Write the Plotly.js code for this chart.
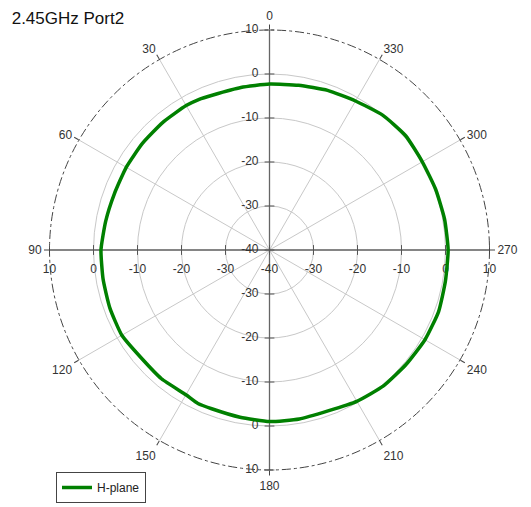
<!DOCTYPE html>
<html>
<head>
<meta charset="utf-8">
<script src="https://cdn.plot.ly/plotly-3.0.1.min.js"></script>
<style>html,body{margin:0;padding:0;background:#fff;}#chart{width:531px;height:507px;}</style>
</head>
<body>
<div id="chart"></div>
<script>
// Measured H-plane pattern (dB) vs angle (deg)
const angles = [0,10,20,25,30,40,50,60,70,80,90,100,110,120,130,140,150,155,160,170,180,190,200,210,220,230,240,250,260,270,280,290,300,310,320,330,340,350,360];
const hplane = [-2.3,-2.5,-2.5,-2.2,-2.1,-2.2,-2.3,-2.4,-2.5,-2.2,-1.7,-1.6,-1.4,-1.25,-1.9,-1.8,-2.0,-1.5,-1.6,-1.4,-1.0,-1.0,-1.1,-0.3,0.3,0.5,0.8,0.9,0.6,0.6,0.4,0.2,0.1,0.4,0.0,-0.9,-1.4,-2.0,-2.3];
const seriesName = 'H-plane';
const titleText = '2.45GHz Port2';
const radialRange = [-40, 10];
const radialTicks = [-40, -30, -20, -10, 0, 10];
const radialTickLabels = ['-40', '-30', '-20', '-10', '0', '10'];
const angularTicks = [0, 30, 60, 90, 120, 150, 180, 210, 240, 270, 300, 330];
const axisArms = [0, 180, 90, 270];

const font = '"Liberation Sans", Arial, sans-serif';
const traces = [];

// axis lines through the centre
traces.push({
  type: 'scatterpolar', mode: 'lines',
  r: [radialRange[1], radialRange[1], null, radialRange[1], radialRange[1]],
  theta: [axisArms[0], axisArms[1], null, axisArms[2], axisArms[3]],
  line: {color: '#666', width: 1.3}, hoverinfo: 'skip', showlegend: false
});

// tick marks + labels on the four arms
function arm(theta, vertical, withCenter) {
  const rs = [], tx = [];
  radialTicks.forEach((v, i) => {
    if (v === radialRange[0] && !withCenter) return;
    rs.push(v); tx.push(radialTickLabels[i]);
  });
  traces.push({
    type: 'scatterpolar', mode: 'markers',
    r: rs, theta: rs.map(() => theta),
    marker: {symbol: vertical ? 'line-ew' : 'line-ns', size: 7, color: '#555', line: {color: '#555', width: 1}},
    hoverinfo: 'skip', showlegend: false, cliponaxis: false
  });
  traces.push({
    type: 'scatterpolar', mode: 'markers+text',
    r: rs, theta: rs.map(() => theta), text: tx,
    textposition: vertical ? 'middle left' : 'bottom center',
    textfont: {family: font, size: 12, color: '#333'},
    marker: {size: vertical ? 16 : 20, color: 'rgba(0,0,0,0)'},
    hoverinfo: 'skip', showlegend: false, cliponaxis: false
  });
}
arm(axisArms[0], true, true);
arm(axisArms[1], true, false);
arm(axisArms[2], false, false);
arm(axisArms[3], false, true);

// data curve
traces.push({
  type: 'scatterpolar', mode: 'lines', name: seriesName,
  r: hplane, theta: angles,
  line: {color: '#008000', width: 3.5, shape: 'spline', smoothing: 0.5},
  showlegend: true
});

const W = 531, H = 507;
const layout = {
  width: W, height: H,
  margin: {l: 0, r: 0, t: 0, b: 0},
  paper_bgcolor: '#fff',
  font: {family: font, size: 12, color: '#333'},
  title: {text: titleText, x: 0.022, xanchor: 'left', xref: 'container', y: 0.965, yanchor: 'middle', yref: 'container',
          font: {family: font, size: 17, color: '#111'}},
  showlegend: true,
  legend: {x: 56 / W, y: 1 - 472 / H, xanchor: 'left', yanchor: 'top', bordercolor: '#444', borderwidth: 1,
           bgcolor: '#fff', font: {family: font, size: 12, color: '#222'}},
  polar: {
    domain: {x: [49.5 / W, 489.5 / W], y: [1 - 470 / H, 1 - 30 / H]},
    bgcolor: '#fff',
    radialaxis: {range: radialRange, tickvals: radialTicks, showticklabels: false, ticks: '',
                 showline: false, gridcolor: '#c8c8c8', gridwidth: 1, angle: 90},
    angularaxis: {rotation: 90, direction: 'counterclockwise', tickvals: angularTicks,
                  ticks: 'outside', ticklen: 5, tickcolor: '#444', showline: false,
                  gridcolor: '#c8c8c8', gridwidth: 1,
                  tickfont: {family: font, size: 12, color: '#333'}}
  },
  shapes: [{type: 'circle', xref: 'paper', yref: 'paper',
            x0: 49.5 / W, x1: 489.5 / W, y0: 1 - 470 / H, y1: 1 - 30 / H,
            line: {color: '#444', width: 1, dash: 'dashdot'}, layer: 'above'}]
};

Plotly.newPlot('chart', traces, layout, {displayModeBar: false, staticPlot: true});
</script>
</body>
</html>
